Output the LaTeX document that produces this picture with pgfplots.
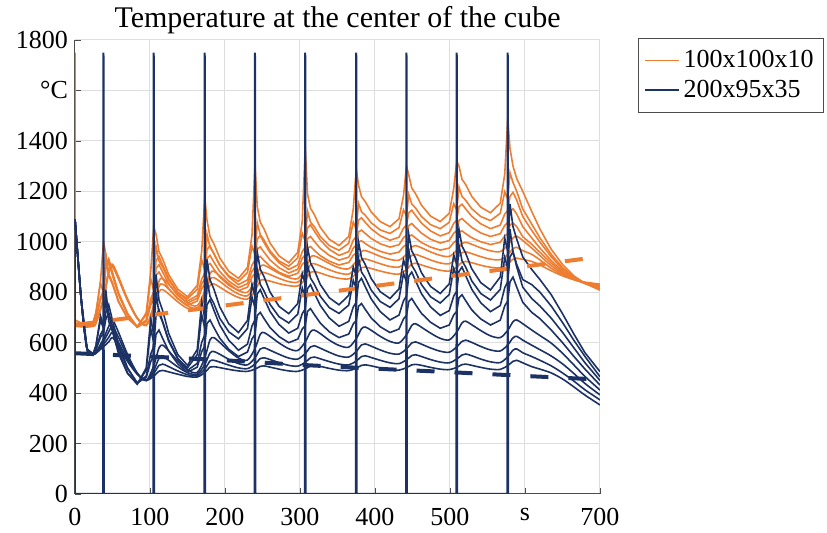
\documentclass[border=0pt]{standalone}
\usepackage{fontspec}
\setmainfont{Liberation Serif}
\usepackage{pgfplots}
\pgfplotsset{compat=1.18}
\definecolor{myorange}{RGB}{237,125,49}
\definecolor{mynavy}{RGB}{28,50,100}
\begin{document}
\begin{tikzpicture}
\useasboundingbox (-37.5pt,-19.5pt) rectangle (376pt,247pt);
\begin{axis}[
  at={(0,0)}, anchor=south west,
  scale only axis, width=262.5pt, height=227pt,
  xmin=0, xmax=700, ymin=0, ymax=1800,
  xtick={0,100,...,700},
  xticklabels={\textrm{0},\textrm{100},\textrm{200},\textrm{300},\textrm{400},\textrm{500},\textrm{s},\textrm{700}},
  ytick={0,200,...,1800},
  yticklabels={\textrm{0},\textrm{200},\textrm{400},\textrm{600},\textrm{800},\textrm{1000},\textrm{1200},\textrm{1400},\textrm{°C},\textrm{1800}},
  grid=major, major grid style={black!13, line width=0.5pt},
  axis x line*=bottom, axis y line*=left,
  axis line style={draw=black!70, line width=0.5pt, -},
  tick style={black!70},
  tick align=inside, major tick length=3pt,
  ticklabel style={font=\fontsize{13}{13}\selectfont},
  xticklabel style={yshift=-3.5pt},
  title={Temperature at the center of the cube},
  title style={font=\fontsize{15}{17}\selectfont, yshift=-6.5pt},
  legend style={at={(1.072,1.004)}, anchor=north west, draw=black!70,
    font=\fontsize{13}{16}\selectfont, inner xsep=3pt, inner ysep=4pt,
    row sep=0.5pt},
  legend cell align=left,
  legend image post style={line width=0.6pt},
]
% ---------------- orange family ----------------
\addplot[myorange, line width=0.8pt] coordinates {
(0,1750)(0,690)(8,678)(16,676)(24,680)
(28,721)(34,845)(38,1000)(41,955)(45,873)(50,838)(58,765)(70,698)(83,663)
(95,718)(101,883)(105,1060)(108,1030)(112,961)(117,931)(125,869)(137,812)(150,782)
(163,827)(169,964)(173,1180)(176,1085)(180,1021)(185,993)(193,936)(205,883)(218,855)
(230,898)(236,1026)(240,1310)(243,1140)(247,1078)(252,1051)(260,995)(272,944)(285,917)
(297,958)(303,1081)(307,1375)(310,1190)(314,1133)(319,1108)(327,1057)(339,1010)(352,985)
(365,1021)(371,1129)(375,1290)(378,1225)(382,1179)(387,1159)(395,1118)(407,1080)(420,1060)
(432,1091)(438,1183)(442,1300)(445,1265)(449,1213)(454,1191)(462,1145)(474,1102)(487,1080)
(499,1113)(505,1212)(509,1320)(512,1300)(516,1248)(521,1226)(529,1180)(541,1137)(554,1115)
(567,1153)(573,1268)(577,1490)(580,1370)(584,1300)(589,1250)(597,1200)(609,1120)(620,1050)(635,970)(650,910)(665,865)(680,835)(700,808)
};
\addlegendentry{100x100x10}
\addplot[myorange, line width=0.8pt, forget plot] coordinates {
(0,678)(8,676)(16,674)(24,678)
(28,718)(34,837)(38,797)(41,943)(45,865)(50,831)(58,761)(70,697)(83,663)
(95,711)(101,854)(105,807)(108,982)(112,924)(117,899)(125,847)(137,799)(150,774)
(163,812)(169,928)(173,889)(176,1030)(180,978)(185,955)(193,908)(205,865)(218,843)
(230,878)(236,983)(240,948)(243,1076)(247,1028)(252,1007)(260,964)(272,924)(285,903)
(297,936)(303,1034)(307,1002)(310,1122)(314,1078)(319,1060)(327,1021)(339,985)(352,966)
(365,994)(371,1078)(375,1050)(378,1153)(382,1119)(387,1105)(395,1075)(407,1047)(420,1033)
(432,1056)(438,1126)(442,1103)(445,1188)(449,1150)(454,1134)(462,1100)(474,1068)(487,1052)
(499,1077)(505,1151)(509,1126)(512,1217)(516,1180)(521,1164)(529,1131)(541,1100)(554,1084)
(567,1113)(573,1198)(577,1170)(580,1274)(584,1235)(589,1200)(597,1130)(609,1070)(620,1015)(635,950)(650,898)(665,860)(680,835)(700,812)
};
\addplot[myorange, line width=0.8pt, forget plot] coordinates {
(0,676)(8,674)(16,672)(24,676)
(28,702)(34,779)(38,805)(41,906)(45,933)(50,879)(58,798)(70,716)(83,662)
(95,690)(101,774)(105,802)(108,924)(112,942)(117,907)(125,854)(137,800)(150,765)
(163,787)(169,853)(173,875)(176,969)(180,984)(185,953)(193,907)(205,861)(218,830)
(230,849)(236,908)(240,927)(243,1011)(247,1024)(252,997)(260,957)(272,917)(285,890)
(297,908)(303,961)(307,979)(310,1055)(314,1067)(319,1043)(327,1007)(339,970)(352,946)
(365,961)(371,1006)(375,1021)(378,1086)(382,1095)(387,1077)(395,1051)(407,1024)(420,1006)
(432,1018)(438,1054)(442,1066)(445,1115)(449,1125)(454,1105)(462,1074)(474,1043)(487,1023)
(499,1036)(505,1073)(509,1086)(512,1139)(516,1149)(521,1130)(529,1101)(541,1071)(554,1052)
(567,1066)(573,1110)(577,1124)(580,1180)(584,1196)(589,1165)(597,1100)(609,1045)(620,998)(635,940)(650,892)(665,858)(680,835)(700,815)
};
\addplot[myorange, line width=0.8pt, forget plot] coordinates {
(0,674)(8,672)(16,670)(24,674)
(28,699)(34,774)(38,800)(41,899)(45,925)(50,872)(58,794)(70,715)(83,662)
(95,687)(101,761)(105,786)(108,894)(112,909)(117,879)(125,833)(137,787)(150,757)
(163,776)(169,833)(173,852)(176,933)(180,946)(185,920)(193,882)(205,844)(218,818)
(230,834)(236,883)(240,899)(243,970)(247,980)(252,959)(260,928)(272,897)(285,876)
(297,891)(303,934)(307,949)(310,1012)(314,1021)(319,1002)(327,974)(339,946)(352,927)
(365,939)(371,975)(375,987)(378,1039)(382,1046)(387,1033)(395,1013)(407,992)(420,979)
(432,988)(438,1016)(442,1026)(445,1064)(449,1072)(454,1057)(462,1034)(474,1010)(487,995)
(499,1005)(505,1034)(509,1044)(512,1085)(516,1092)(521,1078)(529,1057)(541,1035)(554,1021)
(567,1032)(573,1065)(577,1076)(580,1120)(584,1131)(589,1110)(597,1060)(609,1015)(620,975)(635,925)(650,884)(665,855)(680,835)(700,818)
};
\addplot[myorange, line width=0.8pt, forget plot] coordinates {
(0,671)(8,669)(16,668)(24,671)
(28,696)(34,770)(38,795)(41,892)(45,918)(50,867)(58,790)(70,712)(83,661)
(95,683)(101,749)(105,771)(108,867)(112,880)(117,854)(125,814)(137,774)(150,748)
(163,765)(169,814)(173,831)(176,903)(180,914)(185,892)(193,860)(205,828)(218,806)
(230,820)(236,860)(240,874)(243,934)(247,942)(252,926)(260,903)(272,879)(285,863)
(297,875)(303,910)(307,922)(310,974)(314,981)(319,966)(327,945)(339,923)(352,908)
(365,918)(371,946)(375,956)(378,999)(382,1004)(387,993)(395,978)(407,962)(420,951)
(432,959)(438,981)(442,989)(445,1021)(449,1027)(454,1015)(462,997)(474,979)(487,967)
(499,975)(505,997)(509,1005)(512,1038)(516,1043)(521,1032)(529,1016)(541,1000)(554,989)
(567,998)(573,1023)(577,1032)(580,1066)(584,1074)(589,1060)(597,1020)(609,990)(620,958)(635,915)(650,878)(665,853)(680,835)(700,821)
};
\addplot[myorange, line width=0.8pt, smooth, forget plot] coordinates {
(0,669)(8,667)(16,666)(24,669)
(28,681)(38,778)(45,886)(50,911)(58,861)(70,774)(83,699)
(95,671)(105,748)(112,843)(117,854)(125,831)(137,791)(150,757)
(163,747)(173,804)(180,874)(185,883)(193,865)(205,834)(218,807)
(230,800)(240,845)(247,901)(252,907)(260,895)(272,875)(285,858)
(297,854)(307,892)(314,939)(319,944)(327,933)(339,914)(352,897)
(365,893)(375,923)(382,961)(387,965)(395,957)(407,942)(420,930)
(432,927)(442,951)(449,980)(454,985)(462,976)(474,960)(487,946)
(499,942)(509,966)(516,994)(521,998)(529,990)(541,976)(554,964)
(567,961)(577,987)(584,1015)(589,1022)(597,1005)(609,975)(620,945)(635,905)(650,874)(665,851)(680,836)(700,824)
};
\addplot[myorange, line width=0.8pt, smooth, forget plot] coordinates {
(0,667)(8,665)(16,664)(24,667)
(28,679)(38,774)(45,881)(50,905)(58,856)(70,770)(83,697)
(95,669)(105,737)(112,822)(117,832)(125,812)(137,776)(150,746)
(163,737)(173,788)(180,850)(185,858)(193,843)(205,816)(218,793)
(230,786)(240,825)(247,874)(252,878)(260,870)(272,855)(285,842)
(297,840)(307,871)(314,909)(319,913)(327,904)(339,889)(352,876)
(365,872)(375,897)(382,929)(387,932)(395,925)(407,913)(420,902)
(432,900)(442,921)(449,946)(454,950)(462,942)(474,928)(487,916)
(499,913)(509,933)(516,957)(521,960)(529,953)(541,941)(554,931)
(567,929)(577,949)(584,972)(589,978)(597,965)(609,950)(620,928)(635,895)(650,869)(665,850)(680,838)(700,828)
};
\addplot[myorange, line width=0.8pt, smooth, forget plot] coordinates {
(0,665)(8,663)(16,662)(24,665)
(28,677)(38,771)(45,876)(50,900)(58,852)(70,768)(83,696)
(95,668)(105,728)(112,801)(117,810)(125,793)(137,762)(150,736)
(163,729)(173,773)(180,827)(185,833)(193,820)(205,798)(218,779)
(230,773)(240,805)(247,846)(252,849)(260,844)(272,834)(285,826)
(297,825)(307,849)(314,879)(319,882)(327,876)(339,864)(352,855)
(365,853)(375,873)(382,897)(387,900)(395,894)(407,884)(420,875)
(432,872)(442,890)(449,912)(454,915)(462,908)(474,897)(487,887)
(499,884)(509,900)(516,919)(521,922)(529,917)(541,907)(554,899)
(567,897)(577,913)(584,931)(589,935)(597,930)(609,922)(620,908)(635,885)(650,865)(665,850)(680,840)(700,832)
};
% ---------------- blue family ----------------
\addplot[mynavy, line width=0.8pt] coordinates {
(0,1090)(4,930)(8,780)(12,660)(16,575)(20,555)(24,550)
(28,589)(34,706)(38,667)(41,810)(45,705)(50,660)(58,566)(70,480)(83,435)
(95,500)(101,696)(105,631)(108,870)(112,769)(117,726)(125,636)(137,553)(150,510)
(163,573)(169,762)(173,699)(176,930)(180,849)(185,814)(193,742)(205,675)(218,640)
(230,688)(236,832)(240,784)(243,960)(247,891)(252,862)(260,801)(272,744)(285,715)
(297,755)(303,874)(307,834)(310,980)(314,916)(319,888)(327,831)(339,778)(352,750)
(365,788)(371,900)(375,863)(378,1000)(382,937)(387,910)(395,854)(407,802)(420,775)
(432,813)(438,928)(442,890)(445,1030)(449,964)(454,936)(462,877)(474,823)(487,795)
(499,833)(505,948)(509,910)(512,1050)(516,983)(521,954)(529,893)(541,838)(554,809)
(567,860)(573,1014)(577,962)(580,1150)(584,1060)(589,1010)(597,940)(609,890)(620,850)(635,790)(650,715)(665,635)(680,560)(700,485)
};
\addlegendentry{200x95x35}
\addplot[mynavy, line width=0.8pt, forget plot] coordinates {
(0,1090)(4,930)(8,780)(12,662)(16,578)(20,558)(24,555)
(28,589)(34,690)(38,656)(41,780)(45,684)(50,643)(58,557)(70,478)(83,437)
(95,491)(101,655)(105,600)(108,800)(112,716)(117,680)(125,605)(137,536)(150,500)
(163,553)(169,710)(173,658)(176,850)(180,784)(185,756)(193,697)(205,643)(218,615)
(230,656)(236,780)(240,739)(243,890)(247,831)(252,805)(260,752)(272,703)(285,678)
(297,713)(303,817)(307,782)(310,910)(314,856)(319,832)(327,784)(339,739)(352,716)
(365,749)(371,847)(375,815)(378,935)(382,880)(387,857)(395,808)(407,763)(420,740)
(432,774)(438,875)(442,841)(445,965)(449,907)(454,882)(462,830)(474,782)(487,757)
(499,791)(505,894)(509,860)(512,985)(516,925)(521,899)(529,845)(541,795)(554,769)
(567,811)(573,938)(577,895)(580,1050)(584,960)(589,910)(597,850)(609,830)(620,800)(635,745)(650,680)(665,610)(680,545)(700,465)
};
\addplot[mynavy, line width=0.8pt, forget plot] coordinates {
(0,1090)(8,780)(16,575)(24,555)
(28,575)(34,633)(38,653)(41,719)(45,750)(50,688)(58,595)(70,501)(83,439)
(95,468)(101,555)(105,585)(108,706)(112,730)(117,682)(125,610)(137,538)(150,490)
(163,518)(169,602)(173,630)(176,750)(180,770)(185,730)(193,670)(205,610)(218,570)
(230,594)(236,666)(240,690)(243,793)(247,810)(252,776)(260,724)(272,672)(285,638)
(297,657)(303,715)(307,734)(310,814)(314,830)(319,797)(327,748)(339,698)(352,665)
(365,684)(371,741)(375,760)(378,839)(382,855)(387,822)(395,773)(407,723)(420,690)
(432,709)(438,766)(442,785)(445,863)(449,880)(454,846)(462,794)(474,742)(487,708)
(499,727)(505,785)(509,804)(512,882)(516,900)(521,865)(529,812)(541,758)(554,723)
(567,747)(573,818)(577,842)(580,940)(584,960)(589,900)(597,820)(609,775)(620,745)(635,697)(650,641)(665,580)(680,520)(700,450)
};
\addplot[mynavy, line width=0.8pt, forget plot] coordinates {
(0,1090)(8,780)(16,575)(24,555)
(28,572)(34,621)(38,638)(41,692)(45,720)(50,664)(58,581)(70,497)(83,441)
(95,462)(101,525)(105,546)(108,633)(112,650)(117,616)(125,566)(137,516)(150,482)
(163,503)(169,565)(173,586)(176,676)(180,690)(185,661)(193,618)(205,574)(218,545)
(230,563)(236,615)(240,633)(243,708)(247,720)(252,696)(260,660)(272,624)(285,600)
(297,614)(303,654)(307,668)(310,724)(314,735)(319,712)(327,678)(339,643)(352,620)
(365,634)(371,674)(375,688)(378,744)(382,755)(387,732)(395,698)(407,663)(420,640)
(432,654)(438,694)(442,708)(445,763)(449,775)(454,751)(462,716)(474,681)(487,657)
(499,670)(505,710)(509,724)(512,778)(516,790)(521,766)(529,730)(541,694)(554,670)
(567,689)(573,746)(577,765)(580,841)(584,860)(589,820)(597,760)(609,720)(620,695)(635,650)(650,600)(665,546)(680,495)(700,432)
};
\addplot[mynavy, line width=0.8pt, smooth, forget plot] coordinates {
(0,1090)(8,780)(16,575)(24,555)
(28,562)(38,616)(45,665)(50,690)(58,641)(70,554)(83,480)
(95,450)(105,509)(112,579)(117,590)(125,567)(137,527)(150,492)
(163,482)(173,540)(180,611)(185,620)(193,601)(205,568)(218,539)
(230,531)(240,577)(247,633)(252,640)(260,625)(272,599)(285,576)
(297,569)(307,603)(314,643)(319,650)(327,636)(339,610)(352,589)
(365,582)(375,616)(382,655)(387,662)(395,649)(407,625)(420,605)
(432,599)(442,631)(449,668)(454,675)(462,661)(474,638)(487,617)
(499,611)(509,642)(516,678)(521,685)(529,671)(541,648)(554,627)
(567,620)(577,649)(584,683)(589,690)(597,675)(609,650)(620,628)(635,598)(650,558)(665,512)(680,466)(700,412)
};
\addplot[mynavy, line width=0.8pt, smooth, forget plot] coordinates {
(0,1090)(8,780)(16,575)(24,555)
(28,561)(38,605)(45,643)(50,665)(58,621)(70,544)(83,478)
(95,450)(105,490)(112,538)(117,545)(125,530)(137,504)(150,481)
(163,475)(173,513)(180,559)(185,565)(193,554)(205,534)(218,517)
(230,512)(240,540)(247,575)(252,580)(260,570)(272,554)(285,539)
(297,535)(307,557)(314,583)(319,588)(327,578)(339,562)(352,547)
(365,543)(375,565)(382,591)(387,595)(395,586)(407,571)(420,558)
(432,555)(442,575)(449,599)(454,603)(462,594)(474,579)(487,566)
(499,562)(509,583)(516,605)(521,610)(529,601)(541,585)(554,571)
(567,567)(577,591)(584,619)(589,625)(597,610)(609,590)(620,572)(635,547)(650,516)(665,478)(680,438)(700,393)
};
\addplot[mynavy, line width=0.8pt, smooth, forget plot] coordinates {
(0,1090)(8,780)(16,575)(24,555)
(28,559)(38,593)(45,621)(50,640)(58,601)(70,534)(83,476)
(95,450)(105,478)(112,510)(117,515)(125,505)(137,488)(150,473)
(163,469)(173,495)(180,527)(185,530)(193,523)(205,511)(218,500)
(230,497)(240,515)(247,537)(252,540)(260,533)(272,521)(285,510)
(297,507)(307,522)(314,540)(319,543)(327,536)(339,525)(352,515)
(365,512)(375,527)(382,545)(387,548)(395,541)(407,530)(420,520)
(432,517)(442,532)(449,549)(454,552)(462,545)(474,533)(487,523)
(499,520)(509,535)(516,551)(521,555)(529,548)(541,535)(554,524)
(567,521)(577,544)(584,570)(589,575)(597,560)(609,545)(620,530)(635,508)(650,480)(665,448)(680,413)(700,373)
};
\addplot[mynavy, line width=0.8pt, smooth, forget plot] coordinates {
(0,1090)(8,780)(16,575)(24,555)
(28,558)(38,584)(45,603)(50,620)(58,586)(70,526)(83,475)
(95,451)(105,467)(112,487)(117,490)(125,484)(137,475)(150,466)
(163,464)(173,481)(180,503)(185,505)(193,501)(205,494)(218,488)
(230,486)(240,495)(247,506)(252,508)(260,503)(272,495)(285,488)
(297,486)(307,496)(314,508)(319,510)(327,506)(339,498)(352,491)
(365,489)(375,499)(382,510)(387,512)(395,508)(407,500)(420,493)
(432,491)(442,501)(449,512)(454,514)(462,510)(474,502)(487,495)
(499,493)(509,502)(516,513)(521,515)(529,510)(541,502)(554,495)
(567,494)(577,509)(584,526)(589,530)(597,520)(609,505)(620,495)(635,480)(650,456)(665,425)(680,392)(700,353)
};
% ---------------- trend lines ----------------
\addplot[myorange, line width=2pt, dash pattern=on 9pt off 10pt, forget plot] coordinates {
(0,670)(685,935)
};
\addplot[mynavy, line width=2pt, dash pattern=on 9pt off 10pt, forget plot] coordinates {
(0,558)(100,545)(200,530)(300,512)(400,497)(500,483)(600,468)(690,455)
};
% ---------------- surface spikes ----------------
\addplot[mynavy, line width=1pt, forget plot] coordinates {
(0,1090)(0,0)(37.5,0)(38,1750)(38.5,0)(104.5,0)(105,1750)(105.5,0)
(172.5,0)(173,1750)(173.5,0)(239.5,0)(240,1750)(240.5,0)
(306.5,0)(307,1750)(307.5,0)(374.5,0)(375,1750)(375.5,0)
(441.5,0)(442,1750)(442.5,0)(508.5,0)(509,1750)(509.5,0)
(576.5,0)(577,1750)(577.5,0)
};
\end{axis}
\end{tikzpicture}
\end{document}
